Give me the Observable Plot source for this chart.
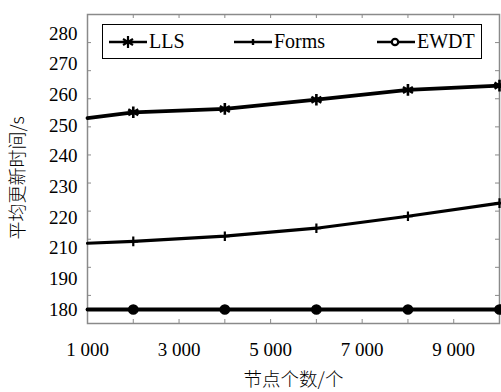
<!DOCTYPE html>
<html>
<head>
<meta charset="utf-8">
<script src="https://cdn.jsdelivr.net/npm/d3@7"></script>
<script src="https://cdn.jsdelivr.net/npm/@observablehq/plot@0.6"></script>
<style>
  html, body { margin: 0; padding: 0; background: #fff; }
  #wrap { position: relative; width: 501px; height: 392px; }
  #legend {
    position: absolute; left: 102px; top: 24px; width: 378px; height: 33px;
    border: 1.5px solid #000; background: #fff; box-sizing: content-box;
    font-family: "Liberation Serif", "Times New Roman", Tinos, "DejaVu Serif", "Noto Serif", serif; font-size: 20px; color: #000;
  }
  .item { position: absolute; top: 0; height: 33px; display: flex; align-items: center; }
  .item svg { display: block; }
</style>
</head>
<body>
<div id="wrap"></div>
<script>
// ---- data ----
const nodes = [1000, 2000, 4000, 6000, 8000, 10000];
const lls   = [252.4, 254.3, 255.4, 258.4, 261.6, 263.0];
const forms = [211.6, 212.2, 213.9, 216.5, 220.4, 224.7];
const ewdt  = [180, 180, 180, 180, 180, 180];
const seriesNames = ["LLS", "Forms", "EWDT"];
const xTickLabels = [1000, 3000, 5000, 7000, 9000];
const xTickMarks = [1000, 2000, 3000, 4000, 5000, 6000, 7000, 8000, 9000, 10000];
const yTickLabels = [180, 190, 210, 220, 230, 240, 250, 260, 270, 280];

// broken y axis: values up to 200 are shifted up by 10 (200 is skipped)
const toPos = v => (v <= 200 ? v + 10 : v);
const fromPos = p => (p <= 200 ? p - 10 : p);

const rows = [];
nodes.forEach((n, i) => {
  rows.push({series: "LLS", x: n, v: lls[i]});
  rows.push({series: "Forms", x: n, v: forms[i]});
  rows.push({series: "EWDT", x: n, v: ewdt[i]});
});
const pts = rows.filter(d => d.x !== 1000);

const yDomain = [185.43, 286.19];
const yTickMarkPos = d3.range(1, 11).map(i => yDomain[0] + i * (yDomain[1] - yDomain[0]) / 11);

const W = 501, H = 392, mt = 14, mb = 69, ml = 87, mr = 2;
const fw = W - ml - mr, fh = H - mt - mb;
const gray = "#8a8a8a";
const serif = "'Liberation Serif', 'Times New Roman', Tinos, 'DejaVu Serif', 'Noto Serif', serif";
const fmtX = d => d3.format(",")(d).replace(",", " ");

const chart = Plot.plot({
  width: W, height: H,
  marginTop: mt, marginBottom: mb, marginLeft: ml, marginRight: mr,
  style: {fontFamily: serif, background: "#fff", color: "#000"},
  x: {domain: [1000, 10000]},
  y: {domain: yDomain},
  marks: [
    Plot.frame({stroke: gray, strokeWidth: 1.5}),
    // inward tick marks
    Plot.tickX(xTickMarks, {x: d => d, insetTop: fh - 4, stroke: gray, strokeWidth: 1}),
    Plot.tickX(xTickMarks, {x: d => d, insetBottom: fh - 4, stroke: gray, strokeWidth: 1}),
    Plot.tickY(yTickMarkPos, {y: d => d, insetRight: fw - 4, stroke: gray, strokeWidth: 1}),
    Plot.tickY(yTickMarkPos, {y: d => d, insetLeft: fw - 4, stroke: gray, strokeWidth: 1}),
    Plot.axisX({ticks: xTickLabels, tickFormat: fmtX, tickSize: 0, tickPadding: 19, fontSize: 19, fontFamily: serif, label: null}),
    Plot.axisY({ticks: yTickLabels.map(toPos), tickFormat: fromPos, tickSize: 0, tickPadding: 10, fontSize: 19, fontFamily: serif, label: null}),
    // lines
    Plot.line(rows.filter(d => d.series === "LLS"), {x: "x", y: d => toPos(d.v), stroke: "#000", strokeWidth: 3.8}),
    Plot.line(rows.filter(d => d.series === "Forms"), {x: "x", y: d => toPos(d.v), stroke: "#000", strokeWidth: 3.2}),
    Plot.line(rows.filter(d => d.series === "EWDT"), {x: "x", y: d => toPos(d.v), stroke: "#000", strokeWidth: 3.8}),
    // markers
    Plot.dot(pts.filter(d => d.series === "LLS"), {x: "x", y: d => toPos(d.v), symbol: "asterisk", r: 5.5, stroke: "#000", strokeWidth: 2.6}),
    Plot.dot(pts.filter(d => d.series === "Forms"), {x: "x", y: d => toPos(d.v), symbol: "plus", r: 3.2, stroke: "#000", strokeWidth: 2.2}),
    Plot.dot(pts.filter(d => d.series === "EWDT"), {x: "x", y: d => toPos(d.v), symbol: "circle", r: 4.6, fill: "#000", stroke: "#000"}),
    // axis titles
    Plot.text(["节点个数/个"], {frameAnchor: "bottom", dy: 57, lineAnchor: "middle", textAnchor: "middle", fontSize: 18.5,
      fontFamily: "'Noto Sans CJK SC', sans-serif", fontWeight: 300, fill: "#000"}),
    Plot.text(["平均更新时间/s"], {frameAnchor: "left", dx: -69, dy: 9, rotate: -90, lineAnchor: "middle", textAnchor: "middle", fontSize: 18,
      fontFamily: "'Noto Sans CJK SC', sans-serif", fontWeight: 300, fill: "#000"})
  ]
});

const wrap = document.getElementById("wrap");
wrap.appendChild(chart);

// legend
const legend = document.createElement("div");
legend.id = "legend";
const symSvg = {
  LLS: `<svg width="40" height="16" viewBox="0 0 40 16"><line x1="1" y1="8" x2="39" y2="8" stroke="#000" stroke-width="2.4"/>
        <g stroke="#000" stroke-width="2.2"><line x1="20" y1="2" x2="20" y2="14"/><line x1="15" y1="5" x2="25" y2="11"/><line x1="15" y1="11" x2="25" y2="5"/></g></svg>`,
  Forms: `<svg width="40" height="16" viewBox="0 0 40 16"><line x1="1" y1="8" x2="39" y2="8" stroke="#000" stroke-width="2.4"/>
        <line x1="20" y1="5" x2="20" y2="11" stroke="#000" stroke-width="2.4"/></svg>`,
  EWDT: `<svg width="40" height="16" viewBox="0 0 40 16"><line x1="1" y1="8" x2="39" y2="8" stroke="#000" stroke-width="2.4"/>
        <circle cx="19" cy="8" r="3.2" fill="#fff" stroke="#000" stroke-width="2.2"/></svg>`
};
const lefts = {LLS: 5, Forms: 130, EWDT: 273};
seriesNames.forEach(name => {
  const it = document.createElement("div");
  it.className = "item";
  it.style.left = lefts[name] + "px";
  it.innerHTML = symSvg[name] + `<span style="margin-left:1px">${name}</span>`;
  legend.appendChild(it);
});
wrap.appendChild(legend);
</script>
</body>
</html>
